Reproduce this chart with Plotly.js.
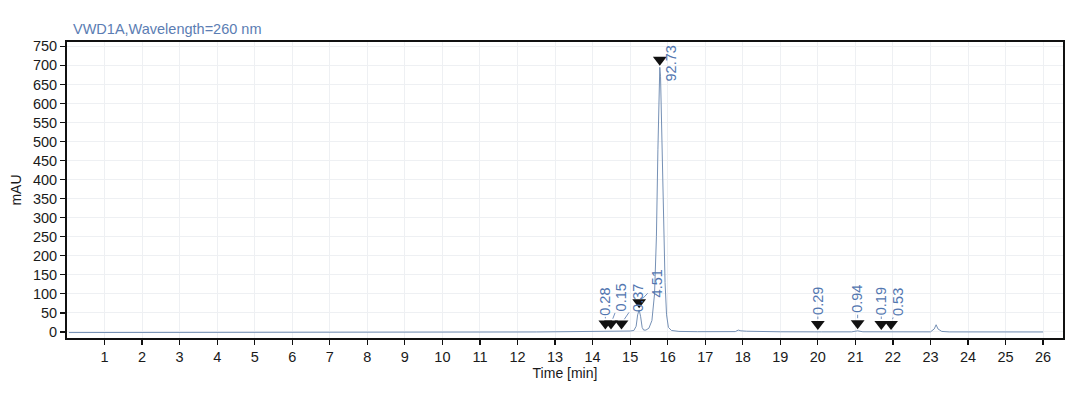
<!DOCTYPE html>
<html>
<head>
<meta charset="utf-8">
<script src="https://cdn.plot.ly/plotly-3.0.1.min.js"></script>
<style>html,body{margin:0;padding:0;background:#fff;}#chart{width:1080px;height:398px;}</style>
</head>
<body>
<div id="chart"></div>
<script>
// Chromatogram signal (time in min, signal in mAU)
const timeMin = [0.05, 2, 4, 6, 8, 10, 11, 12, 12.5, 13, 13.5, 14.0, 14.25, 14.34, 14.42, 14.49, 14.6, 14.77, 14.9, 15.0, 15.1, 15.16, 15.2, 15.24, 15.28, 15.32, 15.36, 15.42, 15.5, 15.58, 15.65, 15.70, 15.74, 15.77, 15.79, 15.81, 15.85, 15.89, 15.93, 15.97, 16.02, 16.1, 16.3, 16.8, 17.5, 17.8, 17.88, 17.95, 18.1, 18.5, 19.0, 19.9, 20.0, 20.1, 20.9, 21.06, 21.2, 21.6, 21.69, 21.8, 21.95, 22.1, 22.5, 23.0, 23.1, 23.15, 23.2, 23.3, 23.5, 24, 25, 26];
const signalMAU = [-1.5, -1.5, -1.6, -1.5, -1.4, -1.2, -1.0, -0.5, 0, 0.5, 0.8, 1.0, 1.2, 2.5, 1.3, 2.5, 1.3, 2.5, 1.5, 2.5, 4, 15, 45, 58, 40, 12, 5, 5, 10, 30, 100, 250, 480, 660, 695, 670, 500, 290, 130, 45, 12, 4, 1.5, 0.8, 0.5, 1, 5, 3, 2, 1, 0.5, 0.3, 0.8, 0.3, 0.3, 3, 0.5, 0.4, 1, 0.6, 1.2, 0.5, 0.5, 0.3, 8, 19, 8, 1.5, 0.2, 0, 0, 0];

// Integrated peaks: retention time, apex height, area % label
const peakTimes = [14.34, 14.49, 14.77, 15.24, 15.79, 20.0, 21.06, 21.69, 21.95];
const peakHeights = [2.5, 2.5, 2.5, 58, 695, 0.8, 3, 1, 1.2];
const peakLabels = ["0.28", "0.15", "0.37", "4.51", "92.73", "0.29", "0.94", "0.19", "0.53"];

// X tick labels
const xTicks = [1,2,3,4,5,6,7,8,9,10,11,12,13,14,15,16,17,18,19,20,21,22,23,24,25,26];

// Label placement (pixel offsets, layout only)
const labelAx = [0, 10, 17, 18, 11, 0, 0, 0, 7];
const labelAy = [-22, -26, -25, -19, 4, -23, -24, -23, -22];
const markerOffset = 20; // mAU above apex

const markerY = peakHeights.map(h => h + markerOffset);

const blue = '#5276b0';
const FONT = 'Liberation Sans, Arial, sans-serif';

const traces = [
  {
    x: timeMin, y: signalMAU, type: 'scatter', mode: 'lines',
    line: {color: '#7590b5', width: 1},
    hoverinfo: 'skip', showlegend: false
  },
  {
    x: peakTimes, y: markerY, type: 'scatter', mode: 'markers',
    marker: {symbol: 'triangle-down', size: 12, color: '#111111', line: {width: 0}},
    showlegend: false, hoverinfo: 'skip'
  }
];

const annotations = peakTimes.map((t, i) => ({
  x: t, y: markerY[i], xref: 'x', yref: 'y',
  text: peakLabels[i], textangle: -90,
  showarrow: true, arrowhead: 0, arrowwidth: 0.8, arrowcolor: blue,
  ax: labelAx[i], ay: labelAy[i], standoff: 5,
  font: {family: FONT, size: 14.5, color: blue}
}));
annotations[4].arrowwidth = 0.01;
annotations[4].arrowcolor = 'rgba(0,0,0,0)';

const layout = {
  width: 1080, height: 398,
  margin: {l: 67, r: 17, t: 42, b: 60},
  paper_bgcolor: '#ffffff', plot_bgcolor: '#ffffff',
  font: {family: FONT, size: 14.5, color: '#1a1a1a'},
  title: {
    text: 'VWD1A,Wavelength=260 nm',
    x: 73/1080, xref: 'container', xanchor: 'left',
    y: 1 - 29/398, yref: 'container', yanchor: 'middle',
    font: {family: FONT, size: 14.5, color: '#5b7db3'}
  },
  xaxis: {
    range: [0, 26.53],
    tickmode: 'array', tickvals: xTicks, ticktext: xTicks.map(String),
    ticks: 'outside', ticklen: 5, tickwidth: 1.2, tickcolor: '#111',
    showline: true, linecolor: '#111', linewidth: 2, mirror: true,
    showgrid: true, gridcolor: '#eef0f3', gridwidth: 1,
    zeroline: false,
    title: {text: 'Time [min]', standoff: 2, font: {size: 14, color: '#1a1a1a'}},
    tickfont: {size: 14.5, color: '#1a1a1a'}
  },
  yaxis: {
    range: [-15.8, 761.5],
    tickmode: 'linear', tick0: 0, dtick: 50,
    ticks: 'outside', ticklen: 5, tickwidth: 1.2, tickcolor: '#111',
    showline: true, linecolor: '#111', linewidth: 2, mirror: true,
    showgrid: true, gridcolor: '#eef0f3', gridwidth: 1,
    zeroline: false,
    title: {text: 'mAU', standoff: 8, font: {size: 14, color: '#1a1a1a'}},
    tickfont: {size: 14.5, color: '#1a1a1a'}
  },
  annotations: annotations,
  showlegend: false
};

Plotly.newPlot('chart', traces, layout, {displayModeBar: false, staticPlot: true});
</script>
</body>
</html>
